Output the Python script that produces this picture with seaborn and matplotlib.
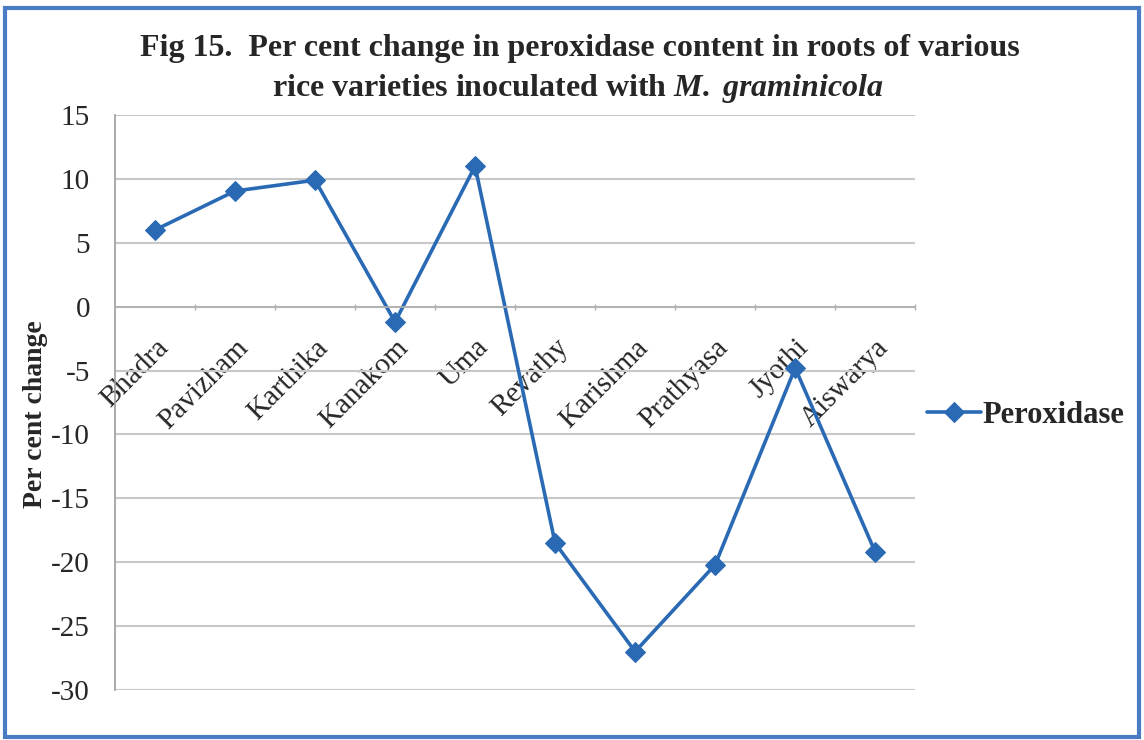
import matplotlib
matplotlib.use("Agg")
import matplotlib.pyplot as plt
import seaborn as sns
import pandas as pd
from matplotlib.patches import Rectangle
from matplotlib.ticker import FixedLocator

varieties = ["Bhadra", "Pavizham", "Karthika", "Kanakom", "Uma", "Revathy",
             "Karishma", "Prathyasa", "Jyothi", "Aiswarya"]
peroxidase = [6.0, 9.05, 9.9, -1.2, 11.0, -18.5, -27.0, -20.2, -4.8, -19.2]
series_name = "Peroxidase"
yticks = [-30, -25, -20, -15, -10, -5, 0, 5, 10, 15]

sns.set_theme(style="white")
plt.rcParams['font.family'] = ['Liberation Serif', 'DejaVu Serif']
plt.rcParams['mathtext.fontset'] = 'custom'
plt.rcParams['mathtext.rm'] = 'Liberation Serif'
plt.rcParams['mathtext.it'] = 'Liberation Serif:italic'
plt.rcParams['mathtext.bf'] = 'Liberation Serif:bold'
plt.rcParams['mathtext.bfit'] = 'Liberation Serif:italic:bold'

df = pd.DataFrame({"Variety": varieties, "Per cent change": peroxidase,
                   "Series": series_name})

fig = plt.figure(figsize=(11.44, 7.40), dpi=100)
ax = fig.add_axes([0.1005, 0.0676, 0.6995, 0.777])

line_color = "#2a6ab5"
sns.lineplot(data=df, x="Variety", y="Per cent change", hue="Series",
             palette=[line_color], marker="D", markersize=10, linewidth=2.6,
             markeredgecolor=line_color, sort=False, ax=ax)

ax.set_ylim(-30, 15)
ax.set_xlim(-0.5, len(varieties) - 0.5)
ax.set_yticks(yticks)
ax.set_yticklabels([str(v) for v in yticks], fontsize=21)
ax.yaxis.grid(True, color="#c8c8c8", linewidth=1.5)
ax.set_axisbelow(True)

for s in ["top", "right"]:
    ax.spines[s].set_visible(False)
ax.spines["left"].set_color("#a0a0a0")
ax.spines["bottom"].set_position(("data", 0))
ax.spines["bottom"].set_color("#b0b0b0")

ax.set_xticks(range(len(varieties)))
ax.set_xticklabels(varieties, rotation=45, ha="right", va="top",
                   rotation_mode="anchor", fontsize=21)
ax.tick_params(axis="x", which="major", length=0, pad=20)
ax.xaxis.set_minor_locator(FixedLocator([i + 0.5 for i in range(len(varieties))]))
ax.tick_params(axis="x", which="minor", length=5, color="#b0b0b0", direction="inout", bottom=True)
ax.tick_params(axis="y", length=0, pad=18)

ax.set_xlabel("")
ax.set_ylabel("Per cent change", fontsize=20, fontweight="bold")
ax.yaxis.set_label_coords(-0.084, 0.48)

leg = ax.legend(loc="center left", bbox_to_anchor=(1.0, 0.478), frameon=False,
                prop={"size": 22, "weight": "bold"}, handlelength=1.75,
                handletextpad=0.05, borderaxespad=0)

fig.text(0.507, 0.935, "Fig 15.  Per cent change in peroxidase content in roots of various",
         ha="center", va="center", fontsize=23, fontweight="bold")
fig.text(0.505, 0.88, "rice varieties inoculated with $\\mathbfit{M.\\ graminicola}$",
         ha="center", va="center", fontsize=23, fontweight="bold")

fig.patches.append(Rectangle((0.004, 0.004), 0.992, 0.985, transform=fig.transFigure,
                             fill=False, edgecolor="#4a7cc4", linewidth=3))

fig.savefig("out.png", dpi=100)
